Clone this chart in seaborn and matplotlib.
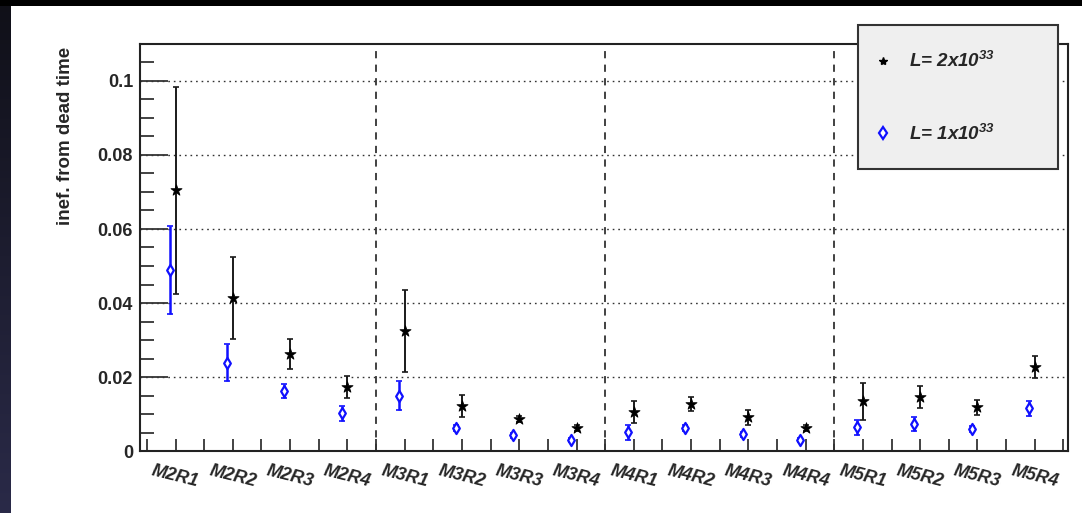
import numpy as np
import pandas as pd
import matplotlib
matplotlib.use("Agg")
import matplotlib.pyplot as plt
import seaborn as sns
from matplotlib.patches import Rectangle
from matplotlib.lines import Line2D

# ---- data ----
modules = ['M2R1', 'M2R2', 'M2R3', 'M2R4', 'M3R1', 'M3R2', 'M3R3', 'M3R4',
           'M4R1', 'M4R2', 'M4R3', 'M4R4', 'M5R1', 'M5R2', 'M5R3', 'M5R4']
ineff_2e33 = [0.0705, 0.0413, 0.0262, 0.0172, 0.0324, 0.0122, 0.0086, 0.0061,
              0.0105, 0.0127, 0.0091, 0.0061, 0.0135, 0.0145, 0.0118, 0.0228]
err_2e33 = [0.028, 0.011, 0.004, 0.003, 0.011, 0.003, 0.0008, 0.0008,
            0.003, 0.002, 0.002, 0.0008, 0.005, 0.003, 0.002, 0.003]
ineff_1e33 = [0.0489, 0.0239, 0.0162, 0.0102, 0.0150, 0.0061, 0.0043, 0.0030,
              0.0051, 0.0063, 0.0045, 0.0030, 0.0064, 0.0073, 0.0059, 0.0115]
err_1e33 = [0.012, 0.005, 0.002, 0.002, 0.004, 0.0008, 0.0007, 0.0006,
            0.002, 0.0008, 0.0007, 0.0006, 0.002, 0.002, 0.0008, 0.002]
yticks = [0, 0.02, 0.04, 0.06, 0.08, 0.1]
ytick_labels = ['0', '0.02', '0.04', '0.06', '0.08', '0.1']
label_hi = r'L= 2x10$^{33}$'
label_lo = r'L= 1x10$^{33}$'
ylabel = 'inef. from dead time'

sns.set_style("white")
plt.rcParams['font.family'] = ['Liberation Sans', 'DejaVu Sans']
plt.rcParams['mathtext.fontset'] = 'custom'
plt.rcParams['mathtext.rm'] = 'Liberation Sans:bold:italic'
plt.rcParams['mathtext.it'] = 'Liberation Sans:bold:italic'
plt.rcParams['mathtext.bf'] = 'Liberation Sans:bold:italic'

pos = np.arange(1, len(modules) + 1)
df_hi = pd.DataFrame({'module': modules, 'pos': pos, 'val': ineff_2e33, 'err': err_2e33})
df_lo = pd.DataFrame({'module': modules, 'pos': pos - 0.1, 'val': ineff_1e33, 'err': err_1e33})

W, H = 1082, 513
fig = plt.figure(figsize=(W / 100, H / 100), dpi=100)
fig.patch.set_facecolor('white')

# dark frame edges of the screenshot
grad = np.linspace(0, 1, 256).reshape(-1, 1)
bax = fig.add_axes([0, 0, 11 / W, 1])
bax.imshow(grad, aspect='auto', cmap=matplotlib.colors.LinearSegmentedColormap.from_list(
    'n', ['#101018', '#2a2a48']), origin='upper')
bax.set_axis_off()
fig.patches.append(Rectangle((0, 1 - 6 / H), 1, 6 / H, transform=fig.transFigure,
                             facecolor='black', edgecolor='none', zorder=5))

ax = fig.add_axes([140 / W, (H - 451) / H, (1068 - 140) / W, (451 - 44) / H])

# grid
for y in yticks[1:]:
    ax.axhline(y, color='#333333', lw=1.0, ls=(0, (1.2, 2.8)), zorder=1)
for xv in [4.5, 8.5, 12.5]:
    ax.axvline(xv, color='#333333', lw=1.3, ls=(0, (4, 3.5)), zorder=1)

# error bars
ax.errorbar(df_hi['pos'], df_hi['val'], yerr=df_hi['err'], fmt='none',
            ecolor='#1a1a1a', elinewidth=1.4, capsize=2, capthick=1.2, zorder=2)
ax.errorbar(df_lo['pos'], df_lo['val'], yerr=df_lo['err'], fmt='none',
            ecolor='#1010ff', elinewidth=1.8, capsize=2, capthick=1.2, zorder=2)

sns.scatterplot(data=df_hi, x='pos', y='val', marker='*', s=70, color='black',
                edgecolor='black', linewidth=0.6, ax=ax, zorder=3, legend=False)
sns.scatterplot(data=df_lo, x='pos', y='val', marker='d', s=32, facecolor='white',
                edgecolor='#1010ff', linewidth=1.6, ax=ax, zorder=3, legend=False)

ax.set_xlim(0.38, 16.58)
ax.set_ylim(0, 0.11)
ax.set_xlabel('')
ax.set_ylabel('')

ax.set_yticks(yticks)
ax.set_yticklabels(ytick_labels, fontsize=13, fontweight='bold')
ax.set_yticks(np.arange(0.005, 0.11, 0.005), minor=True)
ax.set_xticks(pos)
ax.set_xticklabels(modules, fontsize=13, fontweight='bold', style='italic',
                   rotation=-14, ha='center', va='top')
ax.set_xticks(np.arange(0.5, 17, 1.0), minor=True)
ax.tick_params(axis='y', which='major', direction='in', length=20, width=1.2,
               pad=5, color='#222222', left=True)
ax.tick_params(axis='y', which='minor', direction='in', length=10, width=1.2,
               color='#222222', left=True)
ax.tick_params(axis='x', which='both', direction='in', length=8.5, width=1.2,
               pad=8, color='#222222', bottom=True)
for s in ax.spines.values():
    s.set_color('#222222')
    s.set_linewidth(1.5)

fig.text(65 / W, 1 - 47 / H, ylabel, rotation=90, ha='center', va='top',
         fontsize=13.5, fontweight='bold')

# legend box
fig.patches.append(Rectangle((858 / W, (H - 169) / H), 200 / W, 144 / H,
                             transform=fig.transFigure, facecolor='#efefef',
                             edgecolor='#333333', lw=1.5, zorder=10))
handles = [Line2D([], [], ls='none', marker='*', color='black', ms=6),
           Line2D([], [], ls='none', marker='d', mfc='white', mec='#1010ff', mew=1.6, ms=6.5)]
leg = fig.legend(handles, [label_hi, label_lo], loc='center left',
                 bbox_to_anchor=(875 / W, 1 - 97.5 / H), frameon=False,
                 handlelength=0.9, handletextpad=0.9, labelspacing=2.8,
                 borderpad=0, borderaxespad=0,
                 prop={'size': 13.5, 'weight': 'bold', 'style': 'italic'})
leg.set_zorder(11)

fig.savefig('out.png', dpi=100, facecolor='white')
